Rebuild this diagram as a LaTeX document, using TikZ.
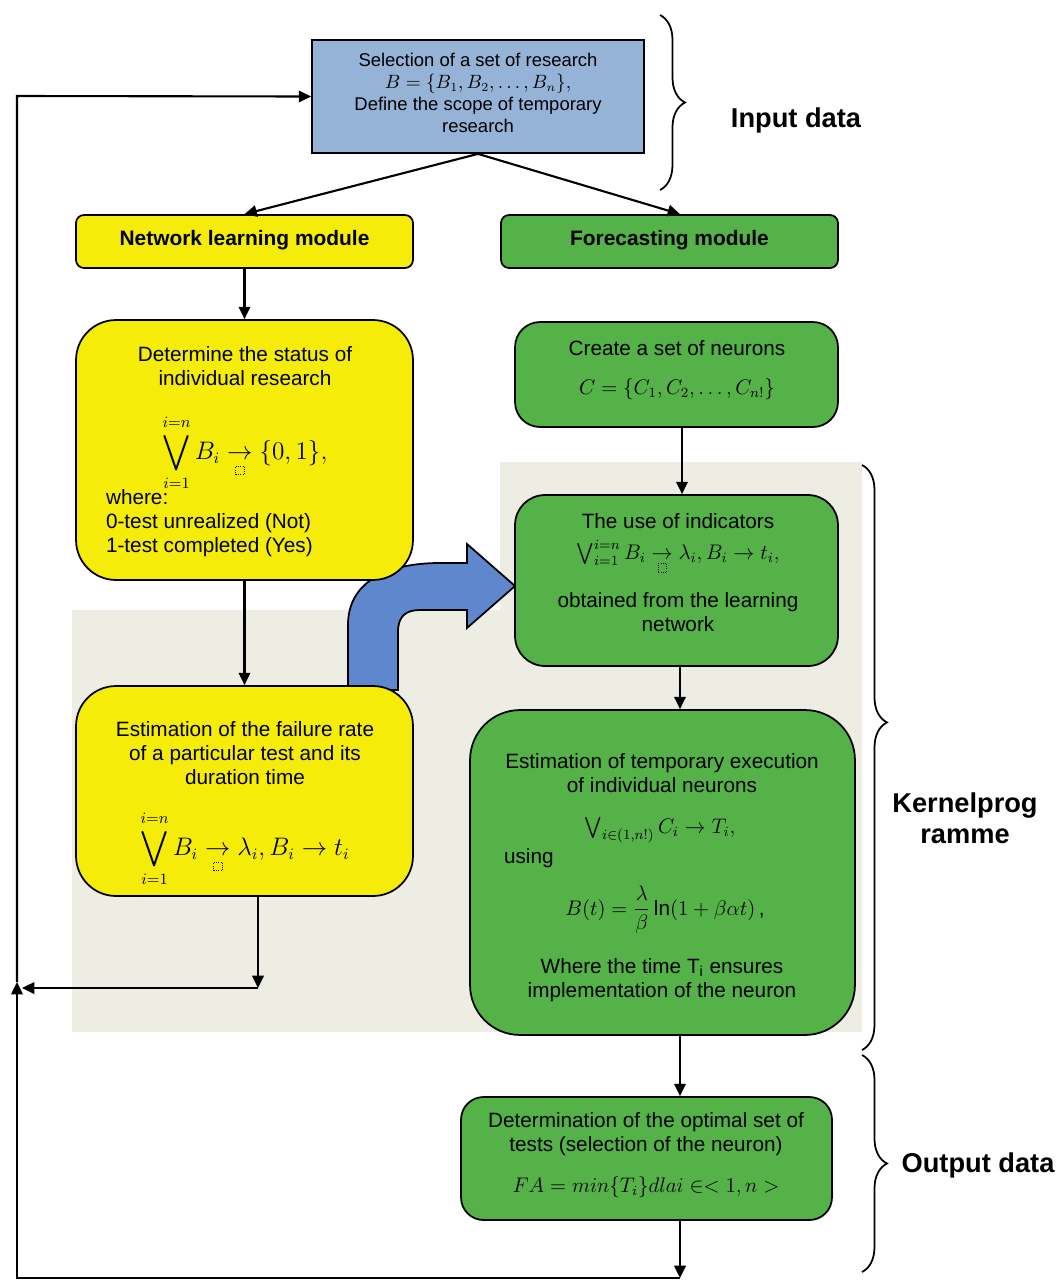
\documentclass[tikz,border=0pt]{standalone}
\usepackage{amsmath}
\usepackage{fontspec}
\setmainfont{Liberation Sans}
\usetikzlibrary{arrows.meta}
\usetikzlibrary{decorations.pathreplacing}

\definecolor{learnyellow}{RGB}{245,236,10}
\definecolor{forecastgreen}{RGB}{84,178,72}
\definecolor{inputblue}{RGB}{149,179,215}
\definecolor{flowblue}{RGB}{95,135,205}
\definecolor{kernelbg}{RGB}{238,237,228}

\newcommand{\dotbox}{\tikz[baseline=0pt]\draw[densely dotted, line width=0.3pt] (0pt,0pt) rectangle (5pt,5pt);}

\tikzset{
	ylwbox/.style={draw, line width=1pt, fill=learnyellow, inner sep=0pt},
	grnbox/.style={draw, line width=1pt, fill=forecastgreen, inner sep=0pt},
	boxtext/.style={align=center, inner sep=0pt, font=\fontsize{11.8}{13.6}\selectfont},
	bigform/.style={inner sep=0pt, font=\fontsize{13.5}{15}\selectfont},
	headtext/.style={inner sep=0pt, font=\fontsize{11.9}{14}\selectfont\bfseries},
	sidelabel/.style={align=center, inner sep=0pt, font=\fontsize{15.5}{17.5}\selectfont\bfseries},
	databrace/.style={decorate, decoration={brace, amplitude=0.5cm, #1}, line width=1pt},
	databrace/.default={aspect=0.5},
}

\begin{document}
\begin{tikzpicture}[x=0.02cm, y=-0.02cm, line width=1.2pt, >={Triangle[length=7pt,width=6.5pt]}]
		\useasboundingbox (0,0) rectangle (1059,1282);
		% background of the kernel part
		\fill[kernelbg] (72,610) -- (500,610) -- (500,462) -- (862,462) -- (862,1032) -- (72,1032) -- cycle;

		% input
		\node[draw, line width=1pt, fill=inputblue, minimum width=6.64cm, minimum height=2.26cm] (sel) at (478,96.5) {};
		\node[boxtext, font=\fontsize{10.5}{12.5}\selectfont] (seltext) at (478,93) {Selection of a set of research\\ $B=\{B_1,B_2,\dots,B_n\},$\\ Define the scope of temporary\\ research};

		% modules
		\node[ylwbox, rounded corners=0.16cm, minimum width=6.74cm, minimum height=1.06cm] (netmod) at (244.5,241.5) {};
		\node[headtext] (netmodtext) at (244.5,240) {Network learning module};
		\node[grnbox, rounded corners=0.16cm, minimum width=6.74cm, minimum height=1.06cm] (formod) at (669.5,241.5) {};
		\node[headtext] (formodtext) at (669.5,240) {Forecasting module};

		% blue transfer arrow
		\draw[line width=1pt, fill=flowblue] (348,690) -- (348,625) .. controls (348,583) and (385,563) .. (440,563) -- (467,563) -- (467,544) -- (515,586) -- (467,628) -- (467,610) -- (420,610) .. controls (406,610) and (398,616) .. (398,632) -- (398,690) -- cycle;

		% learning branch
		\node[ylwbox, rounded corners=0.8cm, minimum width=6.74cm, minimum height=5.2cm] (status) at (244.5,450) {};
		\node[boxtext] (statustitle) at (245,366) {Determine the status of\\ individual research};
		\node[bigform] (statusform) at (245,453) {$\displaystyle\bigvee_{i=1}^{i=n} B_i \underset{\dotbox}{\rightarrow} \{0,1\},$};
		\node[boxtext, align=left, anchor=west] (statuslist) at (105,523) {where:\\ 0-test unrealized (Not)\\ 1-test completed (Yes)};

		\node[ylwbox, rounded corners=0.8cm, minimum width=6.74cm, minimum height=4.2cm] (estim) at (244.5,791) {};
		\node[boxtext] (estimtitle) at (245,753) {Estimation of the failure rate\\ of a particular test and its\\ duration time};
		\node[bigform] (estimform) at (245,849) {$\displaystyle\bigvee_{i=1}^{i=n} B_i \underset{\dotbox}{\rightarrow} \lambda_i, B_i \rightarrow t_i$};

		% forecasting branch
		\node[grnbox, rounded corners=0.5cm, minimum width=6.46cm, minimum height=2.1cm] (neurons) at (676.5,374.5) {};
		\node[boxtext] (neurontitle) at (677,348) {Create a set of neurons};
		\node[boxtext] (neuronform) at (677,389) {$C=\{C_1,C_2,\dots,C_{n!}\}$};

		\node[grnbox, rounded corners=0.6cm, minimum width=6.46cm, minimum height=3.42cm] (indic) at (676.5,580.5) {};
		\node[boxtext] (indictitle) at (678,521) {The use of indicators};
		\node[boxtext] (indicform) at (678,557) {$\bigvee_{i=1}^{i=n} B_i \underset{\dotbox}{\rightarrow} \lambda_i, B_i \rightarrow t_i,$};
		\node[boxtext] (indicnote) at (678,612) {obtained from the learning\\ network};

		\node[grnbox, rounded corners=1cm, minimum width=7.7cm, minimum height=6.5cm] (extime) at (662.5,872.5) {};
		\node[boxtext] (extimetitle) at (662,773) {Estimation of temporary execution\\ of individual neurons};
		\node[boxtext] (extimeform) at (660,830) {$\bigvee_{i\in(1,n!)} C_i \rightarrow T_i,$};
		\node[boxtext, anchor=west] (extimeusing) at (503,858) {using};
		\node[boxtext] (extimemodel) at (665,910) {$B(t)=\dfrac{\lambda}{\beta}\ln(1+\beta\alpha t)$\,,};
		\node[boxtext] (extimenote) at (662,980) {Where the time T\textsubscript{i} ensures\\ implementation of the neuron};

		\node[grnbox, rounded corners=0.45cm, minimum width=7.42cm, minimum height=2.46cm] (optim) at (646.5,1158.5) {};
		\node[boxtext] (optimtitle) at (646,1134) {Determination of the optimal set of\\ tests (selection of the neuron)};
		\node[boxtext] (optimform) at (646,1187) {$FA=min\{T_i\}dlai\in<1,n>$};

		% braces and labels
		\draw[databrace] (660,15) -- (660,190);
		\node[sidelabel] (inputlabel) at (796,120) {Input data};
		\draw[databrace={aspect=0.44}] (862,465) -- (862,1050);
		\node[sidelabel] (kernellabel) at (965,818) {Kernelprog\\ ramme};
		\draw[databrace] (862,1055) -- (862,1272);
		\node[sidelabel] (outputlabel) at (978,1165) {Output data};

		% connectors
		\coordinate (kx) at (680,0);
		\coordinate (retA) at (258,988);
		\coordinate (retB) at (22,988);
		\coordinate (bot) at (680,1278);
		\coordinate (loopB) at (17,1278);
		\coordinate (loopM) at (17,982);
		\coordinate (loopT) at (17,96);
		\draw[->] (sel.south) -- (netmod.north);
		\draw[->] (sel.south) -- (formod.north -| kx);
		\draw[->] (netmod.south) -- (status.north);
		\draw[->] (status.south) -- (estim.north);
		\draw[->] (estim.south -| retA) -- (retA);
		\draw[->] (retA) -- (retB);
		\draw[->] (neurons.south -| 682,0) -- (indic.north -| 682,0);
		\draw[->] (indic.south -| kx) -- (extime.north -| kx);
		\draw[->] (extime.south -| kx) -- (optim.north -| kx);
		\draw[->] (optim.south -| kx) -- (bot);
		\draw[->] (bot) -- (loopB) -- (loopM);
		\draw[->] (loopM) -- (loopT) -- (sel.west);
	\end{tikzpicture}
\end{document}
